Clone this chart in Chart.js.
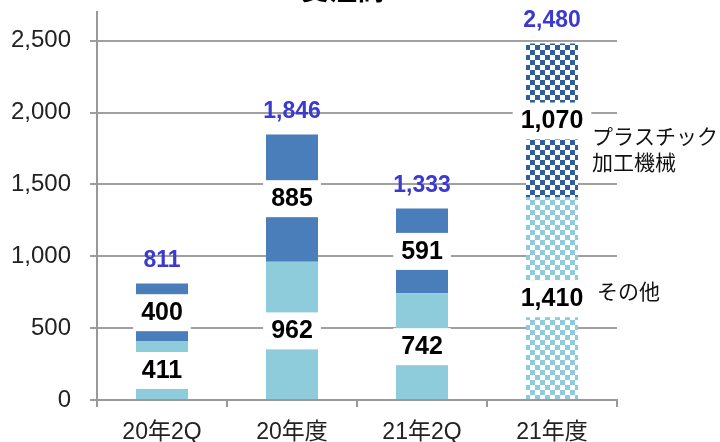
<!DOCTYPE html>
<html>
<head>
<meta charset="utf-8">
<script src="https://cdn.jsdelivr.net/npm/chart.js@4/dist/chart.umd.min.js"></script>
<style>
  html, body { margin: 0; padding: 0; background: #fff; }
  #wrap { width: 720px; height: 442px; }
</style>
</head>
<body>
<div id="wrap"><canvas id="orders"></canvas></div>
<script>
// data
const categories = ["20年2Q", "20年度", "21年2Q", "21年度"];
const otherValues = [411, 962, 742, 1410];
const plasticValues = [400, 885, 591, 1070];
const totalValues = [811, 1846, 1333, 2480];
const yTicks = [0, 500, 1000, 1500, 2000, 2500];

const FONT = "'Liberation Sans', Arial, 'Noto Sans CJK JP', sans-serif";
const LIGHT = "#8ECBDB";
const DARK = "#4A7EBA";

function checker(color) {
  let c = document.createElement("canvas");
  c.width = 10; c.height = 10;
  let g = c.getContext("2d");
  g.fillStyle = "#fff";
  g.fillRect(0, 0, 10, 10);
  g.fillStyle = color;
  g.fillRect(0, 0, 5, 5);
  g.fillRect(5, 5, 5, 5);
  return document.createElement("canvas").getContext("2d").createPattern(c, "repeat");
}

const lightFill = [LIGHT, LIGHT, LIGHT, checker("#8ECBDB")];
const darkFill = [DARK, DARK, DARK, checker("#2F5E9E")];

const labelPlugin = {
  id: "labels",
  afterDatasetsDraw(chart) {
    const ctx = chart.ctx;
    ctx.save();
    ctx.textAlign = "center";
    ctx.textBaseline = "middle";
    ctx.font = "bold 25px " + FONT;
    chart.data.datasets.forEach((ds, i) => {
      chart.getDatasetMeta(i).data.forEach((bar, j) => {
        let txt = ds.data[j].toLocaleString("en-US");
        let cy = (bar.y + bar.base) / 2;
        let w = ctx.measureText(txt).width + 16;
        ctx.fillStyle = "#fff";
        ctx.fillRect(bar.x - w / 2, cy - 18, w, 37);
        ctx.fillStyle = "#000";
        ctx.fillText(txt, bar.x, cy + 1);
      });
    });
    // totals
    const top = chart.getDatasetMeta(1).data;
    ctx.font = "bold 23px " + FONT;
    ctx.fillStyle = "#3A3AD0";
    top.forEach((bar, j) => {
      ctx.fillText(totalValues[j].toLocaleString("en-US"), bar.x, bar.y - 23);
    });
    // side labels next to the last bar
    const lastTop = top[top.length - 1];
    const lastBot = chart.getDatasetMeta(0).data[top.length - 1];
    let lx = lastTop.x + lastTop.width / 2 + 14;
    ctx.textAlign = "left";
    ctx.fillStyle = "#111";
    ctx.font = "21px 'Noto Sans CJK JP', sans-serif";
    let pc = (lastTop.y + lastTop.base) / 2;
    ctx.fillText("プラスチック", lx, pc + 16);
    ctx.fillText("加工機械", lx, pc + 42);
    let oc = (lastBot.y + lastBot.base) / 2;
    ctx.fillText("その他", lx + 5, oc - 7);
    // title, partly above the canvas edge
    ctx.textAlign = "center";
    ctx.textBaseline = "alphabetic";
    ctx.fillStyle = "#000";
    ctx.font = "bold 28px 'Noto Sans CJK JP', sans-serif";
    ctx.fillText("受注高", 343, 0);
    ctx.restore();
  }
};

new Chart(document.getElementById("orders"), {
  type: "bar",
  data: {
    labels: categories,
    datasets: [
      { label: "その他", data: otherValues, backgroundColor: lightFill },
      { label: "プラスチック加工機械", data: plasticValues, backgroundColor: darkFill }
    ]
  },
  options: {
    responsive: true,
    maintainAspectRatio: false,
    animation: false,
    layout: { padding: { top: 12, right: 103, left: 0, bottom: 0 } },
    plugins: {
      legend: { display: false },
      tooltip: { enabled: false }
    },
    datasets: { bar: { categoryPercentage: 1, barPercentage: 0.4 } },
    scales: {
      x: {
        stacked: true,
        grid: { drawOnChartArea: false, color: "#999", lineWidth: 2, tickLength: 7, offset: true },
        border: { color: "#999", width: 2 },
        ticks: { color: "#222", font: { family: FONT, size: 23 }, padding: 12 },
        afterFit: s => { s.height = 42; }
      },
      y: {
        stacked: true,
        min: 0,
        max: 2700,
        afterBuildTicks: s => { s.ticks = yTicks.map(v => ({ value: v })); },
        grid: { color: "#A0A0A0", lineWidth: 2, tickLength: 7 },
        border: { color: "#999", width: 2 },
        ticks: {
          color: "#222",
          font: { family: FONT, size: 24 },
          padding: 19,
          callback: v => v.toLocaleString("en-US")
        },
        afterFit: s => { s.width = 97; s.paddingTop = 0; s.paddingBottom = 0; }
      }
    }
  },
  plugins: [labelPlugin]
});
</script>
</body>
</html>
